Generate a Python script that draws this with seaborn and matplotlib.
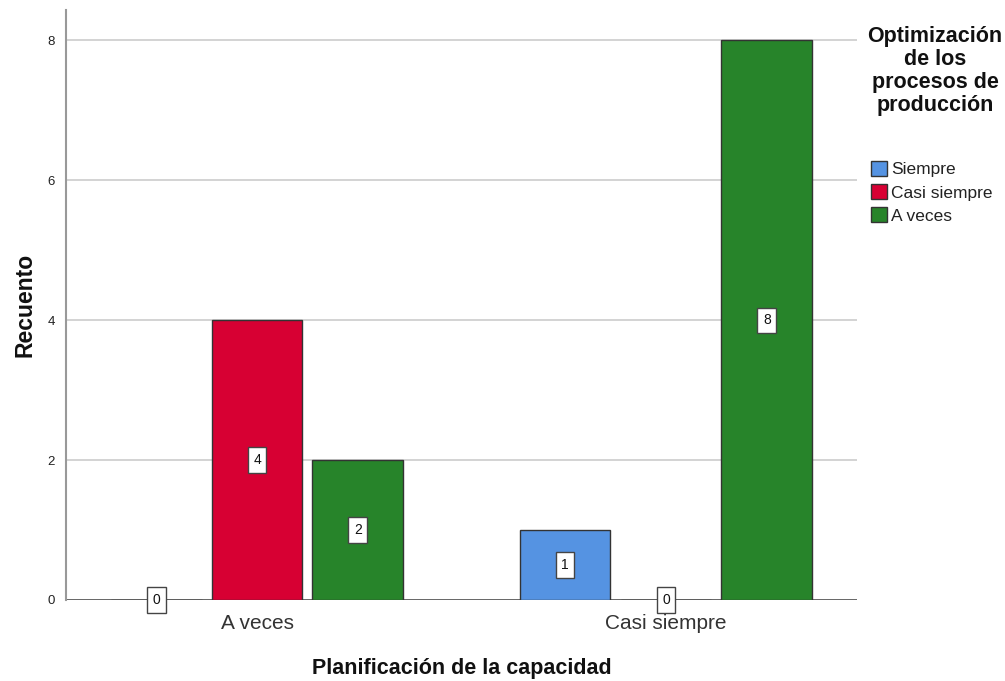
import matplotlib
matplotlib.use("Agg")
import matplotlib.pyplot as plt
import seaborn as sns
import pandas as pd

# Counts per capacity-planning level, split by production-process optimisation
groups = ["A veces", "Casi siempre"]
series = ["Siempre", "Casi siempre", "A veces"]
siempre = [0, 1]
casi_siempre = [4, 0]
a_veces = [2, 8]
yticks = [0, 2, 4, 6, 8]
legend_title = "Optimización\nde los\nprocesos de\nproducción"

colors = ["#5593E2", "#D70033", "#27842A"]

rows = []
for name, vals in zip(series, [siempre, casi_siempre, a_veces]):
    for g, v in zip(groups, vals):
        rows.append({"grupo": g, "serie": name, "valor": v})
df = pd.DataFrame(rows)

sns.set_theme(style="white")
plt.rcParams["font.family"] = ["Liberation Sans", "DejaVu Sans"]

fig = plt.figure(figsize=(10.05, 6.81), dpi=100)
ax = fig.add_axes([0.0657, 0.119, 0.787, 0.866])

sns.barplot(data=df, x="grupo", y="valor", hue="serie", order=groups,
            hue_order=series, palette=colors, width=0.74, gap=0.1,
            edgecolor="#333333", linewidth=1.0, saturation=1, ax=ax,
            legend=True, zorder=3)

ax.set_xlim(-0.467, 1.467)
ax.set_ylim(0, 8.43)
ax.set_yticks(yticks)
ax.set_yticklabels([str(t) for t in yticks], fontsize=9.5, color="#222222")
ax.tick_params(axis="x", labelsize=15, length=0, pad=10)
ax.tick_params(axis="y", length=0, pad=8)
for lab in ax.get_xticklabels():
    lab.set_color("#333333")

ax.yaxis.grid(True, color="#cccccc", linewidth=1.2, zorder=0)
ax.set_axisbelow(True)
for s in ["top", "right", "bottom"]:
    ax.spines[s].set_visible(False)
ax.spines["left"].set_color("#999999")
ax.spines["left"].set_linewidth(1.5)
ax.axhline(0, color="#555555", linewidth=1.2, zorder=2)

ax.set_xlabel("Planificación de la capacidad", fontsize=15.5, fontweight="bold",
              labelpad=18, color="#111111")
ax.set_ylabel("Recuento", fontsize=16.5, fontweight="bold", labelpad=8,
              color="#111111")

# value boxes at mid-height of each bar
for cont in ax.containers:
    for bar in cont:
        h = bar.get_height()
        xc = bar.get_x() + bar.get_width() / 2
        ax.text(xc, h / 2, f"{int(round(h))}", ha="center", va="center",
                fontsize=10, color="#111111", zorder=5,
                bbox=dict(boxstyle="square,pad=0.4", facecolor="white",
                          edgecolor="#444444", linewidth=1.0))

# legend: bold centred title block, then the colour keys below it
fig.text(935 / 1005, 1 - 26 / 681, legend_title, ha="center", va="top",
         fontsize=15.5, fontweight="bold", color="#111111",
         linespacing=1.12, multialignment="center")
leg = ax.legend(loc="upper left", bbox_to_anchor=(871 / 1005, 1 - 161 / 681),
                bbox_transform=fig.transFigure, frameon=False,
                fontsize=12.5, handlelength=0.95, handleheight=0.95,
                handletextpad=0.2, labelspacing=0.38, borderaxespad=0.0,
                borderpad=0.0)
for t in leg.get_texts():
    t.set_color("#222222")

fig.savefig("out.png", dpi=100)
